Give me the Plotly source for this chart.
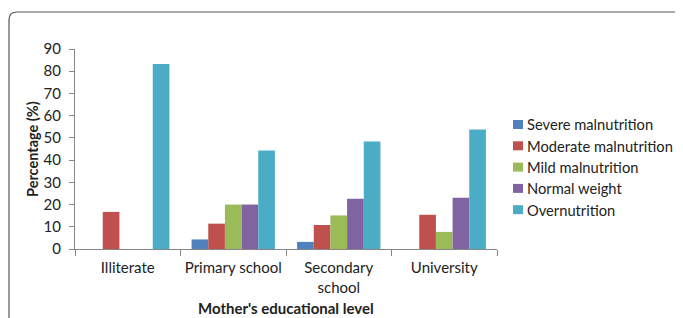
import plotly.graph_objects as go

categories = ["Illiterate", "Primary school", "Secondary<br>school", "University"]
series_names = ["Severe malnutrition", "Moderate malnutrition", "Mild malnutrition",
                "Normal weight", "Overnutrition"]
severe = [0, 4.3, 3.2, 0]
moderate = [16.7, 11.4, 10.8, 15.4]
mild = [0, 20.0, 15.1, 7.7]
normal = [0, 20.0, 22.6, 23.1]
over = [83.3, 44.3, 48.4, 53.8]
colors = ["#4F81BD", "#C0504D", "#9BBB59", "#8064A2", "#4BACC6"]
y_ticks = [0, 10, 20, 30, 40, 50, 60, 70, 80, 90]

O = 8  # page body margin offset
W, H = 683 - O, 318 - O
PL, PR, PT, PB = 75, 497, 49, 249  # plot area in page pixels
L, T = PL - O, PT - O
R = W - (PR - O)
B = H - (PB - O)
pw, ph = PR - PL, PB - PT

def px(x):
    return (x - PL) / pw

def py(y):
    return (PB - y) / ph

fig = go.Figure()
for name, vals, col in zip(series_names, [severe, moderate, mild, normal, over], colors):
    fig.add_trace(go.Bar(x=categories, y=vals, name=name, marker_color=col,
                         marker_line_width=0, showlegend=False))

font = "Lato, 'Open Sans', sans-serif"
fig.update_layout(
    width=W, height=H,
    margin=dict(l=L, r=R, t=T, b=B, autoexpand=False),
    paper_bgcolor="white", plot_bgcolor="white",
    barmode="group", bargap=0.21, bargroupgap=0,
    font=dict(family=font, size=15, color="#222"),
    showlegend=False,
    xaxis=dict(showline=True, linecolor="#868686", linewidth=1, ticks="outside",
               tickson="boundaries", ticklen=6, tickcolor="#868686", tickangle=0,
               automargin=False, ticklabelstandoff=5,
               tickfont=dict(size=15, family=font, color="#222"), showgrid=False),
    yaxis=dict(range=[0, 90], tickvals=y_ticks, showline=True, linecolor="#868686",
               linewidth=1, ticks="outside", ticklen=5, tickcolor="#868686",
               automargin=False, ticklabelstandoff=5,
               tickfont=dict(size=15, family=font, color="#222"), showgrid=False,
               zeroline=False),
)

fig.add_annotation(text="<b>Percentage (%)</b>", xref="paper", yref="paper",
                   x=px(32), y=py(149), textangle=-90, showarrow=False,
                   xanchor="center", yanchor="middle",
                   font=dict(size=14.5, family=font, color="#222"))
fig.add_annotation(text="<b>Mother's educational level</b>", xref="paper", yref="paper",
                   x=px(286), y=py(308), showarrow=False,
                   xanchor="center", yanchor="middle",
                   font=dict(size=15, family=font, color="#222"))

# manual legend
leg_y = [124.5, 145.8, 167.1, 188.4, 209.7]
for name, col, yc in zip(series_names, colors, leg_y):
    fig.add_shape(type="rect", xref="paper", yref="paper",
                  x0=px(513), x1=px(523), y0=py(yc - 4.5), y1=py(yc + 4.5),
                  fillcolor=col, line=dict(width=0))
    fig.add_annotation(text=name, xref="paper", yref="paper", x=px(525), y=py(yc),
                       xanchor="left", yanchor="middle", showarrow=False,
                       font=dict(size=14.7, family=font, color="#222"))

# rounded frame
path = (f"M {px(9)},{py(340)} L {px(9)},{py(20)} "
        f"Q {px(9)},{py(12)} {px(17)},{py(12)} L {px(720)},{py(12)}")
fig.add_shape(type="path", path=path, xref="paper", yref="paper",
              line=dict(color="#555555", width=1.2))

fig.write_html("out.html")
